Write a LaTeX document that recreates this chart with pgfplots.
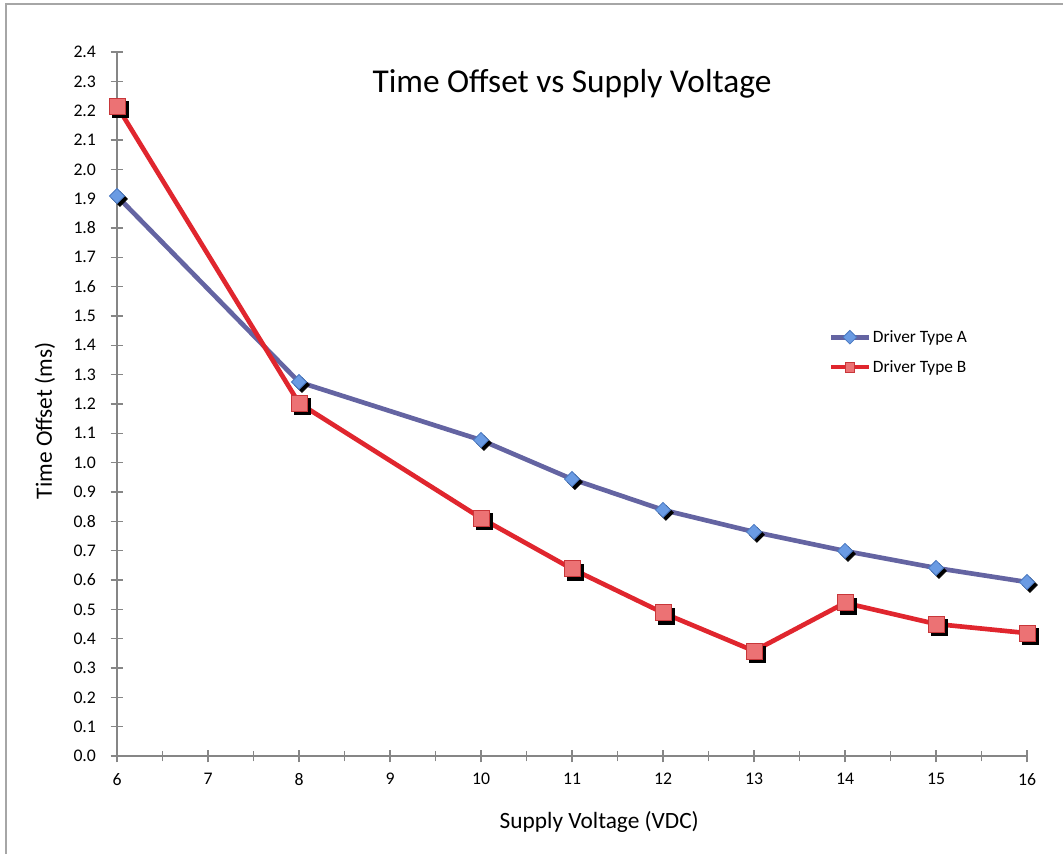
\documentclass[border=0pt]{standalone}
\usepackage{fontspec}
\setmainfont{Carlito}
\usepackage{pgfplots}
\pgfplotsset{compat=1.18}

\definecolor{axgray}{HTML}{868686}
\definecolor{lineA}{HTML}{6464A2}
\definecolor{markA}{HTML}{6A9BE3}
\definecolor{edgeA}{HTML}{4A78C0}
\definecolor{lineB}{HTML}{E0262E}
\definecolor{markB}{HTML}{EC7274}
\definecolor{edgeB}{HTML}{C8373A}

\begin{document}
\begin{tikzpicture}
\path[use as bounding box] (-87.75pt,-73.5pt) rectangle (709.5pt,567pt);
\begin{axis}[
    at={(0,0)}, anchor=south west,
    scale only axis,
    width=682.5pt, height=528pt,
    xmin=6, xmax=16,
    ymin=0, ymax=2.4,
    xtick={6,...,16},
    minor x tick num=1,
    ytick={0,0.1,...,2.41},
    axis x line*=bottom,
    axis y line*=left,
    axis line style={axgray, line width=1pt, -},
    tick style={axgray, line width=0.8pt},
    tick align=center,
    major tick length=9.5pt,
    minor tick length=8pt,
    /pgf/number format/assume math mode=true,
    yticklabel style={/pgf/number format/.cd, fixed, fixed zerofill, precision=1, /tikz/.cd, xshift=-7.5pt},
    xticklabel style={yshift=-4.5pt},
    ticklabel style={font=\fontsize{13.3}{15}\selectfont},
    label style={font=\fontsize{17.5}{20}\selectfont},
    xlabel={Supply Voltage (VDC)},
    ylabel={Time Offset (ms)},
    xlabel style={at={(axis description cs:0.53,-0.09375)}, anchor=center},
    ylabel style={at={(axis description cs:-0.0791,0.476)}, anchor=center},
    clip=false,
    legend style={at={(axis description cs:0.782,0.608)}, anchor=north west,
        draw=none, fill=none, font=\fontsize{13}{15}\selectfont,
        row sep=9pt, inner sep=0pt, nodes={inner sep=1.5pt}},
    legend cell align=left,
    legend image code/.code={
        \draw[mark repeat=2, mark phase=2, #1, mark size=3.6pt]
            plot coordinates {(0pt,0pt) (14pt,0pt) (28pt,0pt)};
    },
]
% shadows
\addplot[forget plot, only marks, black, mark=square*, mark size=4pt,
    mark options={rotate=45}, xshift=2.2pt, yshift=-2.2pt] coordinates {
    (6,1.909) (8,1.275) (10,1.077) (11,0.944) (12,0.839)
    (13,0.764) (14,0.699) (15,0.641) (16,0.593)
};
\addplot[lineA, line width=3.5pt, mark=square*, mark size=4pt,
    mark options={rotate=45, fill=markA, draw=edgeA, line width=0.6pt}] coordinates {
    (6,1.909) (8,1.275) (10,1.077) (11,0.944) (12,0.839)
    (13,0.764) (14,0.699) (15,0.641) (16,0.593)
};
\addlegendentry{Driver Type A}
\addplot[forget plot, only marks, black, mark=square*, mark size=6pt,
    xshift=2.2pt, yshift=-2.2pt] coordinates {
    (6,2.216) (8,1.203) (10,0.811) (11,0.638) (12,0.488)
    (13,0.358) (14,0.522) (15,0.450) (16,0.419)
};
\addplot[lineB, line width=3.5pt, mark=square*, mark size=6pt,
    mark options={fill=markB, draw=edgeB, line width=0.6pt}] coordinates {
    (6,2.216) (8,1.203) (10,0.811) (11,0.638) (12,0.488)
    (13,0.358) (14,0.522) (15,0.450) (16,0.419)
};
\addlegendentry{Driver Type B}
\end{axis}
\node[font=\fontsize{25}{29}\selectfont] at (341.25pt,504pt) {Time Offset vs Supply Voltage};
\draw[gray!70, line width=1.2pt] (-83.25pt,-73.5pt) -- (-83.25pt,564pt) -- (709.5pt,564pt);
\end{tikzpicture}
\end{document}
